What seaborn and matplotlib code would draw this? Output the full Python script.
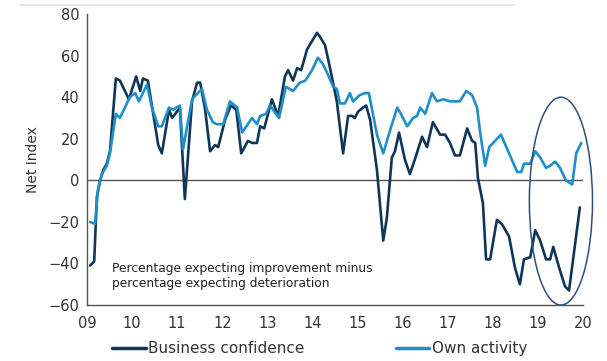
import matplotlib
matplotlib.use("Agg")
import matplotlib.pyplot as plt
from matplotlib.patches import Ellipse
from matplotlib.lines import Line2D
import seaborn as sns
import pandas as pd

# ---- data ----
bc_time = [2009.07, 2009.16, 2009.22, 2009.29, 2009.36, 2009.44, 2009.51, 2009.64, 2009.73, 2009.93,
           2010.09, 2010.18, 2010.24, 2010.35, 2010.58, 2010.66, 2010.82, 2010.89, 2011.06, 2011.17,
           2011.33, 2011.44, 2011.51, 2011.62, 2011.73, 2011.84, 2011.91, 2012.06, 2012.19, 2012.31,
           2012.42, 2012.57, 2012.66, 2012.77, 2012.84, 2012.93, 2013.10, 2013.24, 2013.39, 2013.46,
           2013.57, 2013.66, 2013.75, 2013.88, 2014.10, 2014.17, 2014.28, 2014.39, 2014.54, 2014.68,
           2014.79, 2014.88, 2014.94, 2015.01, 2015.12, 2015.19, 2015.28, 2015.43, 2015.57, 2015.65,
           2015.76, 2015.83, 2015.92, 2016.05, 2016.16, 2016.27, 2016.43, 2016.54, 2016.67, 2016.83,
           2016.94, 2017.05, 2017.16, 2017.27, 2017.43, 2017.54, 2017.61, 2017.67, 2017.78, 2017.85,
           2017.94, 2018.09, 2018.20, 2018.36, 2018.49, 2018.60, 2018.69, 2018.83, 2018.94, 2019.05,
           2019.18, 2019.27, 2019.34, 2019.47, 2019.60, 2019.69, 2019.93]
bc_values = [-41, -39, -8, 0, 5, 8, 14, 49, 48, 39,
             50, 43, 49, 48, 17, 13, 34, 30, 35, -9,
             38, 47, 47, 34, 14, 17, 16, 29, 36, 34,
             13, 19, 18, 18, 26, 25, 39, 31, 50, 53,
             48, 54, 53, 63, 71, 69, 65, 54, 38, 13,
             31, 31, 30, 33, 35, 36, 29, 5, -29, -18,
             11, 14, 23, 10, 3, 10, 21, 16, 28, 22,
             22, 18, 12, 12, 25, 19, 18, 1, -11, -38,
             -38, -19, -21, -27, -42, -50, -38, -37, -24, -29,
             -38, -38, -32, -42, -51, -53, -13]

oa_time = [2009.07, 2009.18, 2009.24, 2009.33, 2009.44, 2009.51, 2009.64, 2009.73, 2009.95, 2010.07,
           2010.15, 2010.33, 2010.44, 2010.58, 2010.66, 2010.82, 2010.91, 2011.06, 2011.13, 2011.33,
           2011.46, 2011.55, 2011.66, 2011.79, 2011.88, 2012.02, 2012.17, 2012.33, 2012.44, 2012.66,
           2012.77, 2012.84, 2012.97, 2013.06, 2013.26, 2013.41, 2013.57, 2013.72, 2013.84, 2013.99,
           2014.12, 2014.23, 2014.32, 2014.46, 2014.54, 2014.61, 2014.72, 2014.83, 2014.90, 2015.05,
           2015.17, 2015.25, 2015.43, 2015.57, 2015.72, 2015.88, 2015.96, 2016.10, 2016.23, 2016.32,
           2016.39, 2016.50, 2016.65, 2016.76, 2016.90, 2017.05, 2017.16, 2017.27, 2017.41, 2017.54,
           2017.65, 2017.72, 2017.83, 2017.92, 2018.18, 2018.36, 2018.54, 2018.63, 2018.69, 2018.83,
           2018.94, 2019.05, 2019.18, 2019.27, 2019.38, 2019.49, 2019.62, 2019.76, 2019.85, 2019.96]
oa_values = [-20, -21, -5, 3, 7, 13, 32, 30, 40, 42,
             38, 46, 35, 26, 26, 35, 34, 36, 15, 39,
             42, 44, 34, 28, 27, 27, 38, 35, 23, 30,
             27, 31, 32, 36, 30, 45, 43, 47, 48, 53,
             59, 56, 52, 45, 44, 37, 37, 42, 38, 41,
             42, 42, 22, 13, 24, 35, 32, 26, 30, 31,
             35, 32, 42, 38, 39, 38, 38, 38, 43, 41,
             35, 23, 7, 16, 22, 13, 4, 4, 8, 8,
             14, 11, 6, 7, 9, 6, 0, -2, 13, 18]

series_names = ["Business confidence", "Own activity"]
year_ticks = list(range(2009, 2021))
year_labels = ["09", "10", "11", "12", "13", "14", "15", "16", "17", "18", "19", "20"]
y_ticks = [-60, -40, -20, 0, 20, 40, 60, 80]
note_text = "Percentage expecting improvement minus\npercentage expecting deterioration"

df = pd.concat([
    pd.DataFrame({"t": bc_time, "v": bc_values, "series": series_names[0]}),
    pd.DataFrame({"t": oa_time, "v": oa_values, "series": series_names[1]}),
], ignore_index=True)

sns.set_style("white")
plt.rcParams["font.family"] = ["DejaVu Sans"]

fig = plt.figure(figsize=(6.07, 3.61), dpi=100)
ax = fig.add_axes([0.1433, 0.155, 0.8172, 0.806])

palette = {series_names[0]: "#0f3658", series_names[1]: "#1f8ec9"}
sns.lineplot(data=df, x="t", y="v", hue="series", palette=palette, sort=False,
             linewidth=1.9, ax=ax, estimator=None)

ax.axhline(0, color="#555555", linewidth=1.0, zorder=1)

ax.set_xlim(2009, 2020)
ax.set_ylim(-60, 80)
ax.set_xticks(year_ticks)
ax.set_xticklabels(year_labels)
ax.set_yticks(y_ticks)
ax.set_xlabel("")
ax.set_ylabel("Net Index", fontsize=10, color="#333333", labelpad=6)

for s in ["top", "right"]:
    ax.spines[s].set_visible(False)
for s in ["left", "bottom"]:
    ax.spines[s].set_color("#555555")
    ax.spines[s].set_linewidth(1.0)
ax.tick_params(axis="both", colors="#555555", labelcolor="#333333", labelsize=10.5,
               length=4, width=1, direction="inout")
ax.tick_params(axis="x", pad=6)

ax.text(2009.55, -46, note_text, fontsize=8.8, color="#222222",
        va="center", ha="left", linespacing=1.15)

ell = Ellipse((2019.51, -10), width=1.40, height=100, fill=False,
              edgecolor="#2b4f80", linewidth=1.1, zorder=5, clip_on=False)
ax.add_patch(ell)

leg = ax.legend(loc="center left", bbox_to_anchor=(0.038, -0.151), ncol=2, frameon=False,
                fontsize=11, handlelength=2.2, handletextpad=0.15, columnspacing=6.0,
                borderaxespad=0)
for line in leg.get_lines():
    line.set_linewidth(2.5)
for t in leg.get_texts():
    t.set_color("#333333")

fig.add_artist(Line2D([20 / 607, 513 / 607], [1 - 5 / 361, 1 - 5 / 361],
                      color="#e6e6e6", linewidth=1.5, transform=fig.transFigure))

fig.savefig("out.png", dpi=100)
